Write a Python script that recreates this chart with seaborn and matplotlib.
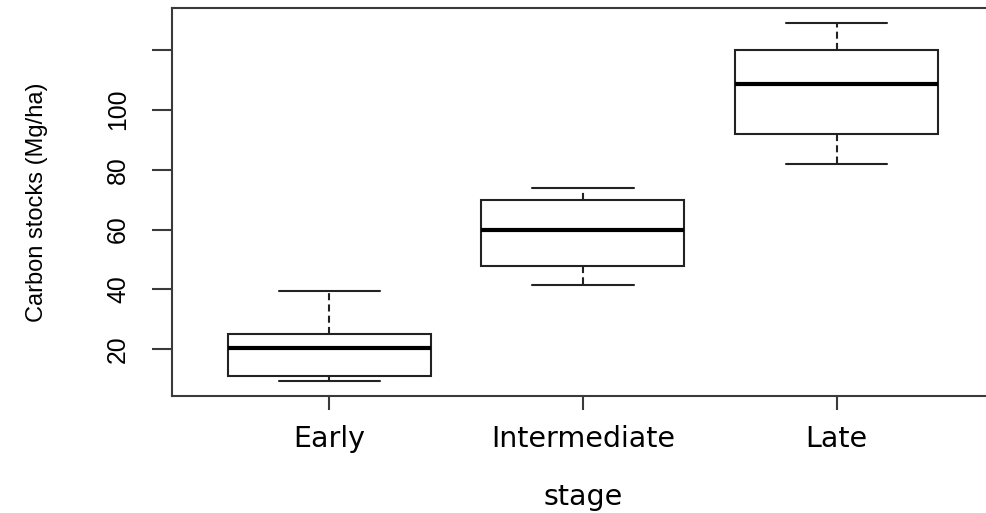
import numpy as np
import pandas as pd
import matplotlib
matplotlib.use("Agg")
import matplotlib.pyplot as plt
import seaborn as sns

# ---- data (five-number summaries) ----
stages = ["Early", "Intermediate", "Late"]
early_vals = [9.5, 11.0, 20.4, 25.0, 39.5]
intermediate_vals = [41.5, 47.9, 60.0, 70.0, 74.0]
late_vals = [82.0, 92.0, 108.5, 120.0, 129.0]
y_ticks = [20, 40, 60, 80, 100, 120]
y_tick_labels = ["20", "40", "60", "80", "100", ""]

df = pd.DataFrame({
    "stage": np.repeat(stages, 5),
    "carbon": early_vals + intermediate_vals + late_vals,
})

sns.set_style("white")
plt.rcParams["font.family"] = ["DejaVu Sans"]

fig = plt.figure(figsize=(9.86, 5.13), dpi=100)
ax = fig.add_axes([0.1744, 0.2287, 0.8337, 0.7558])

line_c = "#222222"
sns.boxplot(
    data=df, x="stage", y="carbon", order=stages, ax=ax,
    color="white", saturation=1, linecolor=line_c, linewidth=1.5,
    width=0.8, whis=1.5, showfliers=False,
    medianprops=dict(linewidth=3.0, color="black"),
    whiskerprops=dict(linestyle=(0, (3.4, 2.0)), linewidth=1.5, color=line_c),
    capprops=dict(linewidth=1.5, color=line_c),
)

ax.set_xlim(-0.62, 2.62)
ax.set_ylim(4.5, 134.0)

for name, s in ax.spines.items():
    s.set_visible(name != "right")
    s.set_color("#3a3a3a")
    s.set_linewidth(1.5)

rot_family = ["Liberation Sans", "DejaVu Sans"]
ax.set_yticks(y_ticks)
ax.set_yticklabels(y_tick_labels, rotation=90, va="center",
                   family=rot_family, fontsize=17.8, color="black")
ax.tick_params(axis="y", direction="out", length=14.4, width=1.5,
               color="#3a3a3a", pad=15.8, left=True)

ax.set_xticks(range(len(stages)))
ax.set_xticklabels(stages, fontsize=20.5, color="black")
ax.tick_params(axis="x", direction="out", length=10, width=1.5,
               color="#3a3a3a", pad=11.2, bottom=True)

ax.set_xlabel("stage", fontsize=20.5, color="black")
ax.xaxis.set_label_coords(0.5, -0.226)
ax.set_ylabel("Carbon stocks (Mg/ha)", fontsize=17.0, color="black",
              family=rot_family)
ax.yaxis.set_label_coords(-0.1513, 0.5)

ax.grid(False)
fig.savefig("out.png", dpi=100, facecolor="white")
